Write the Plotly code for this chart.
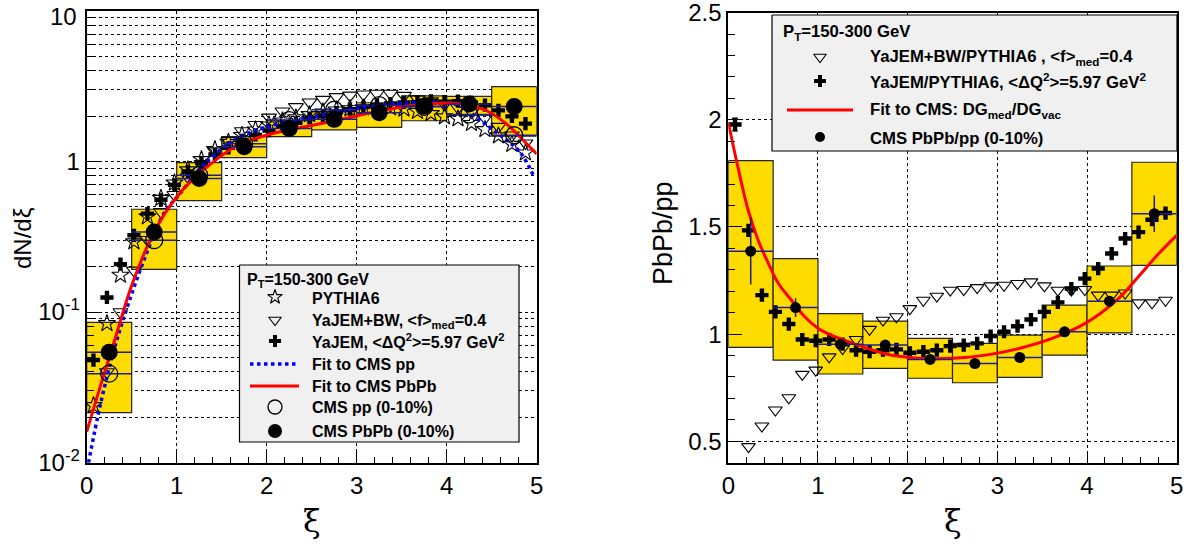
import plotly.graph_objects as go

W, H = 1196, 546

# ---------------- data ----------------
xi_model = [0.075, 0.225, 0.375, 0.525, 0.675, 0.825, 0.975, 1.125, 1.275, 1.425, 1.575,
            1.725, 1.875, 2.025, 2.175, 2.325, 2.475, 2.625, 2.775, 2.925, 3.075, 3.225,
            3.375, 3.525, 3.675, 3.825, 3.975, 4.125, 4.275, 4.425, 4.575, 4.725, 4.875]

pythia6 = [0.024, 0.084, 0.176, 0.293, 0.43, 0.57, 0.72, 0.88, 1.03, 1.2, 1.34,
           1.49, 1.62, 1.75, 1.86, 1.95, 2.05, 2.13, 2.2, 2.24, 2.27, 2.28,
           2.27, 2.23, 2.15, 2.08, 1.98, 1.92, 1.79, 1.63, 1.48, 1.3, 1.14]

yajem_bw = [None, 0.040, 0.100, 0.189, 0.302, 0.463, 0.60, 0.787, 0.961, 1.17, 1.37,
            1.59, 1.75, 1.96, 2.15, 2.30, 2.47, 2.57, 2.68, 2.74, 2.79, 2.82,
            2.82, 2.73, 2.59, 2.51, 2.39, 2.27, 2.12, 1.94, 1.70, 1.49, 1.32]

yajem = [0.048, 0.125, 0.208, 0.323, 0.45, 0.556, 0.698, 0.858, 0.982, 1.11, 1.23,
         1.38, 1.50, 1.60, 1.71, 1.80, 1.94, 2.02, 2.11, 2.22, 2.29, 2.36,
         2.42, 2.46, 2.47, 2.52, 2.49, 2.51, 2.46, 2.36, 2.18, 1.99, 1.78]

ratio_bw = [None, 0.475, 0.571, 0.646, 0.703, 0.812, 0.832, 0.894, 0.933, 0.975, 1.022,
            1.065, 1.081, 1.119, 1.158, 1.177, 1.205, 1.208, 1.217, 1.225, 1.228, 1.236,
            1.244, 1.225, 1.205, 1.205, 1.208, 1.182, 1.182, 1.192, 1.146, 1.146, 1.158]

ratio_yajem = [1.978, 1.484, 1.182, 1.104, 1.047, 0.975, 0.969, 0.975, 0.953, 0.925, 0.918,
               0.925, 0.929, 0.913, 0.918, 0.925, 0.944, 0.949, 0.957, 0.991, 1.011, 1.037,
               1.068, 1.104, 1.148, 1.213, 1.259, 1.306, 1.376, 1.446, 1.476, 1.534, 1.565]
ratio_yajem_err = [0.03] + [0.0] * 32

xi_bins = [0.25, 0.75, 1.25, 1.75, 2.25, 2.75, 3.25, 3.75, 4.25, 4.75]
cms_pbpb = [0.054, 0.34, 0.77, 1.25, 1.65, 1.90, 2.10, 2.32, 2.40, 2.31]
cms_pp = [0.039, 0.30, 0.81, 1.31, 1.88, 2.20, 2.36, 2.30, 2.05, 1.49]
pbpb_sys_lo = [0.0215, 0.192, 0.548, 1.06, 1.46, 1.62, 1.68, 1.86, 2.03, 1.47]
pbpb_sys_hi = [0.0855, 0.481, 0.98, 1.46, 1.86, 2.14, 2.45, 2.72, 2.70, 3.13]

cms_ratio = [1.387, 1.124, 0.953, 0.949, 0.882, 0.863, 0.891, 1.011, 1.154, 1.562]
cms_ratio_err = [0.155, 0.044, 0.01, 0.01, 0.01, 0.01, 0.01, 0.015, 0.02, 0.085]
ratio_sys_lo = [0.938, 0.879, 0.814, 0.840, 0.794, 0.773, 0.798, 0.902, 1.006, 1.321]
ratio_sys_hi = [1.81, 1.352, 1.096, 1.061, 0.980, 0.957, 0.995, 1.135, 1.318, 1.802]

fit_pbpb_x = [0.0, 0.15, 0.3, 0.5, 0.75, 1.0, 1.3, 1.67, 2.04, 2.41, 2.7, 2.96, 3.33, 3.7,
              4.05, 4.25, 4.45, 4.65, 4.85, 5.0]
fit_pbpb_y = [0.016, 0.032, 0.062, 0.15, 0.34, 0.58, 0.88, 1.27, 1.52, 1.69, 1.83, 1.98,
              2.2, 2.38, 2.44, 2.36, 2.16, 1.8, 1.38, 1.12]

fit_pp_x = [0.02, 0.155, 0.3, 0.415, 0.637, 0.86, 1.04, 1.3, 1.67, 2.04, 2.41, 2.7, 2.96,
            3.33, 3.7, 3.96, 4.15, 4.37, 4.59, 4.81, 4.97]
fit_pp_y = [0.010, 0.0248, 0.055, 0.093, 0.222, 0.453, 0.614, 0.95, 1.42, 1.72, 1.92, 2.08,
            2.22, 2.38, 2.47, 2.45, 2.33, 1.88, 1.50, 1.16, 0.79]

fit_ratio_x = [0.0, 0.111, 0.222, 0.333, 0.448, 0.559, 0.704, 0.852, 1.0, 1.148, 1.39, 1.76,
               2.13, 2.5, 2.87, 3.24, 3.61, 3.98, 4.35, 4.57, 4.8, 5.0]
fit_ratio_y = [1.989, 1.772, 1.578, 1.438, 1.329, 1.236, 1.158, 1.081, 1.027, 0.995, 0.957,
               0.907, 0.887, 0.887, 0.902, 0.933, 0.98, 1.05, 1.166, 1.267, 1.376, 1.461]

# ---------------- styles ----------------
YELLOW = "#FFDC00"
NAVY = "#1c1c9c"
FONT = "Liberation Sans"

def P(px):
    return px / W

def Q(py):
    return 1 - py / H

fig = go.Figure()

# ---------- left panel ----------
fig.add_trace(go.Bar(x=xi_bins, y=[h - l for h, l in zip(pbpb_sys_hi, pbpb_sys_lo)],
                     base=pbpb_sys_lo, width=0.5,
                     marker=dict(color=YELLOW, line=dict(color="#222222", width=1.2)),
                     xaxis="x", yaxis="y", showlegend=False, hoverinfo="skip"))
fig.add_trace(go.Scatter(x=xi_model, y=pythia6, mode="markers",
                         marker=dict(symbol="star-open", size=13, color="black",
                                     line=dict(width=1.1, color="black")),
                         xaxis="x", yaxis="y", showlegend=False))
fig.add_trace(go.Scatter(x=xi_model, y=yajem_bw, mode="markers",
                         marker=dict(symbol="triangle-down-open", size=13, color="black",
                                     line=dict(width=1.1, color="black")),
                         xaxis="x", yaxis="y", showlegend=False))
fig.add_trace(go.Scatter(x=xi_model, y=yajem, mode="markers",
                         marker=dict(symbol="cross", size=11, color="black",
                                     line=dict(width=0)),
                         xaxis="x", yaxis="y", showlegend=False))
fig.add_trace(go.Scatter(x=fit_pp_x, y=fit_pp_y, mode="lines", line_shape="spline",
                         line=dict(color="#0000ff", width=3.5, dash="dot"),
                         xaxis="x", yaxis="y", showlegend=False))
fig.add_trace(go.Scatter(x=fit_pbpb_x, y=fit_pbpb_y, mode="lines", line_shape="spline",
                         line=dict(color="#ff0000", width=3),
                         xaxis="x", yaxis="y", showlegend=False))
fig.add_trace(go.Scatter(x=xi_bins, y=cms_pp, mode="markers",
                         marker=dict(symbol="circle-open", size=17, color="black",
                                     line=dict(width=1.3, color="black")),
                         error_x=dict(type="constant", value=0.25, color=NAVY,
                                      thickness=1.5, width=0),
                         xaxis="x", yaxis="y", showlegend=False))
fig.add_trace(go.Scatter(x=xi_bins, y=cms_pbpb, mode="markers",
                         marker=dict(symbol="circle", size=17, color="black"),
                         error_x=dict(type="constant", value=0.25, color=NAVY,
                                      thickness=1.5, width=0),
                         xaxis="x", yaxis="y", showlegend=False))

# ---------- right panel ----------
fig.add_trace(go.Bar(x=xi_bins, y=[h - l for h, l in zip(ratio_sys_hi, ratio_sys_lo)],
                     base=ratio_sys_lo, width=0.5,
                     marker=dict(color=YELLOW, line=dict(color="#222222", width=1.2)),
                     xaxis="x2", yaxis="y2", showlegend=False, hoverinfo="skip"))
fig.add_trace(go.Scatter(x=xi_model, y=ratio_bw, mode="markers",
                         marker=dict(symbol="triangle-down-open", size=12, color="black",
                                     line=dict(width=1.1, color="black")),
                         xaxis="x2", yaxis="y2", showlegend=False))
fig.add_trace(go.Scatter(x=xi_model, y=ratio_yajem, mode="markers",
                         marker=dict(symbol="cross", size=11, color="black",
                                     line=dict(width=0)),
                         error_y=dict(type="data", array=ratio_yajem_err, color="black",
                                      thickness=1.2, width=3),
                         xaxis="x2", yaxis="y2", showlegend=False))
fig.add_trace(go.Scatter(x=fit_ratio_x, y=fit_ratio_y, mode="lines", line_shape="spline",
                         line=dict(color="#ff0000", width=3),
                         xaxis="x2", yaxis="y2", showlegend=False))
fig.add_trace(go.Scatter(x=xi_bins, y=cms_ratio, mode="markers",
                         marker=dict(symbol="circle", size=11, color="black"),
                         error_x=dict(type="constant", value=0.25, color=NAVY,
                                      thickness=1.5, width=0),
                         error_y=dict(type="data", array=cms_ratio_err, color=NAVY,
                                      thickness=1.5, width=0),
                         xaxis="x2", yaxis="y2", showlegend=False))

# ---------- legends (overlay pixel axes) ----------
def box(x0, x1, y0, y1):
    fig.add_trace(go.Scatter(x=[x0, x1, x1, x0, x0], y=[y0, y0, y1, y1, y0], mode="lines",
                             fill="toself", fillcolor="#f0f0f0",
                             line=dict(color="black", width=1.2),
                             xaxis="x3", yaxis="y3", showlegend=False, hoverinfo="skip"))

def mk(x, y, symbol, size, lw=1.1):
    fig.add_trace(go.Scatter(x=[x], y=[y], mode="markers",
                             marker=dict(symbol=symbol, size=size, color="black",
                                         line=dict(width=lw, color="black")),
                             xaxis="x3", yaxis="y3", showlegend=False, hoverinfo="skip"))

def ln(x0, x1, y, color, width, dash="solid"):
    fig.add_trace(go.Scatter(x=[x0, x1], y=[y, y], mode="lines",
                             line=dict(color=color, width=width, dash=dash),
                             xaxis="x3", yaxis="y3", showlegend=False, hoverinfo="skip"))

box(239.5, 519, 265, 442)
mk(275, 297, "star-open", 11)
mk(275, 320, "triangle-down-open", 11)
mk(275, 341, "cross", 10, 0)
ln(250, 299, 364, "#0000ff", 3.5, "dot")
ln(250, 299, 386, "#ff0000", 3)
mk(275, 407, "circle-open", 14, 1.3)
mk(275, 431, "circle", 14, 0)

box(772, 1177, 15, 151)
mk(820, 57, "triangle-down-open", 11)
mk(820, 81, "cross", 10, 0)
ln(787, 853, 110, "#ff0000", 3)
mk(820, 137, "circle", 10, 0)

anns = []
def txt(px, py, s, size=16, xanchor="left", bold=True, family=FONT, angle=0, yanchor="middle"):
    anns.append(dict(x=P(px), y=Q(py), xref="paper", yref="paper", text=s, showarrow=False,
                     xanchor=xanchor, yanchor=yanchor, textangle=angle,
                     font=dict(family=family, size=size, color="black",
                               weight="bold" if bold else "normal")))

txt(245, 280, "P<sub>T</sub>=150-300 GeV")
txt(310, 298, "PYTHIA6")
txt(310, 321, "YaJEM+BW, &lt;f&gt;<sub>med</sub>=0.4")
txt(310, 341, "YaJEM, &lt;ΔQ<sup>2</sup>&gt;=5.97 GeV<sup>2</sup>")
txt(310, 364, "Fit to CMS pp")
txt(310, 386, "Fit to CMS PbPb")
txt(310, 407, "CMS pp (0-10%)")
txt(310, 431, "CMS PbPb (0-10%)")

txt(781, 32, "P<sub>T</sub>=150-300 GeV", size=16.7)
txt(868, 58, "YaJEM+BW/PYTHIA6 , &lt;f&gt;<sub>med</sub>=0.4", size=16.7)
txt(868, 81, "YaJEM/PYTHIA6, &lt;ΔQ<sup>2</sup>&gt;=5.97 GeV<sup>2</sup>", size=16.7)
txt(868, 111, "Fit to CMS: DG<sub>med</sub>/DG<sub>vac</sub>", size=16.7)
txt(868, 138, "CMS PbPb/pp (0-10%)", size=16.7)

# top tick label of the log axis, nudged down so it stays inside the page
txt(79, 16, "10", size=24, xanchor="right", bold=False)

# axis titles
txt(311.7, 521, "ξ", size=32, xanchor="center", bold=False, family="DejaVu Serif")
txt(952.5, 521, "ξ", size=32, xanchor="center", bold=False, family="DejaVu Serif")
txt(22, 238, "dN/dξ", size=24, xanchor="center", bold=False, angle=-90)
txt(663, 233, "PbPb/pp", size=27, xanchor="center", bold=False, angle=-90)

# ---------- axes ----------
tickfont = dict(family=FONT, size=24, color="black")
common_x = dict(range=[0, 5], showline=True, linewidth=2, linecolor="black", mirror=True,
                automargin=False, ticklabeloverflow="allow",
                ticks="inside", ticklen=12, tickwidth=1.2, tickcolor="black",
                tickvals=[0, 1, 2, 3, 4, 5], ticktext=["0", "1", "2", "3", "4", "5"],
                tickfont=tickfont, showgrid=True, gridcolor="black", griddash="dot",
                gridwidth=1, zeroline=False,
                minor=dict(dtick=0.2, ticks="inside", ticklen=6, tickwidth=1.2,
                           tickcolor="black", showgrid=False))

minor_log = [v * m for v in (0.01, 0.1, 1) for m in (2, 3, 4, 5, 6, 7, 8, 9)]

fig.update_layout(
    width=W, height=H, margin=dict(l=0, r=0, t=0, b=0, autoexpand=False),
    paper_bgcolor="white", plot_bgcolor="rgba(0,0,0,0)",
    barmode="overlay", showlegend=False,
    xaxis=dict(domain=[P(86.7), P(536.7)], anchor="y", **common_x),
    yaxis=dict(domain=[Q(462.7), Q(10.7)], anchor="x", type="log", range=[-2, 1],
               automargin=False, ticklabeloverflow="allow",
               showline=True, linewidth=2, linecolor="black", mirror=True,
               ticks="inside", ticklen=14, tickwidth=1.2, tickcolor="black",
               tickvals=[0.01, 0.1, 1, 10],
               ticktext=["10<sup>-2</sup>", "10<sup>-1</sup>", "1", ""],
               tickfont=tickfont, showgrid=True, gridcolor="black", griddash="dot",
               gridwidth=1, zeroline=False,
               minor=dict(tickvals=minor_log, ticks="inside", ticklen=7, tickwidth=1.2,
                          tickcolor="black", showgrid=True, gridcolor="black",
                          griddash="dot", gridwidth=1)),
    xaxis2=dict(domain=[P(728.3), P(1176.7)], anchor="y2", **common_x),
    yaxis2=dict(domain=[Q(462.7), Q(12.7)], anchor="x2", range=[0.4, 2.5],
                automargin=False, ticklabeloverflow="allow",
                showline=True, linewidth=2, linecolor="black", mirror=True,
                ticks="inside", ticklen=14, tickwidth=1.2, tickcolor="black",
                tickvals=[0.5, 1, 1.5, 2, 2.5], ticktext=["0.5", "1", "1.5", "2", "2.5"],
                tickfont=tickfont, showgrid=True, gridcolor="black", griddash="dot",
                gridwidth=1, zeroline=False,
                minor=dict(dtick=0.1, ticks="inside", ticklen=7, tickwidth=1.2,
                           tickcolor="black", showgrid=False)),
    xaxis3=dict(domain=[0, 1], range=[0, W], visible=False, anchor="y3", automargin=False),
    yaxis3=dict(domain=[0, 1], range=[H, 0], visible=False, anchor="x3", automargin=False),
    annotations=anns,
)

fig.write_html("out.html", config={"displayModeBar": False},
               post_script="document.body.style.margin='0';document.body.style.overflow='hidden';")
